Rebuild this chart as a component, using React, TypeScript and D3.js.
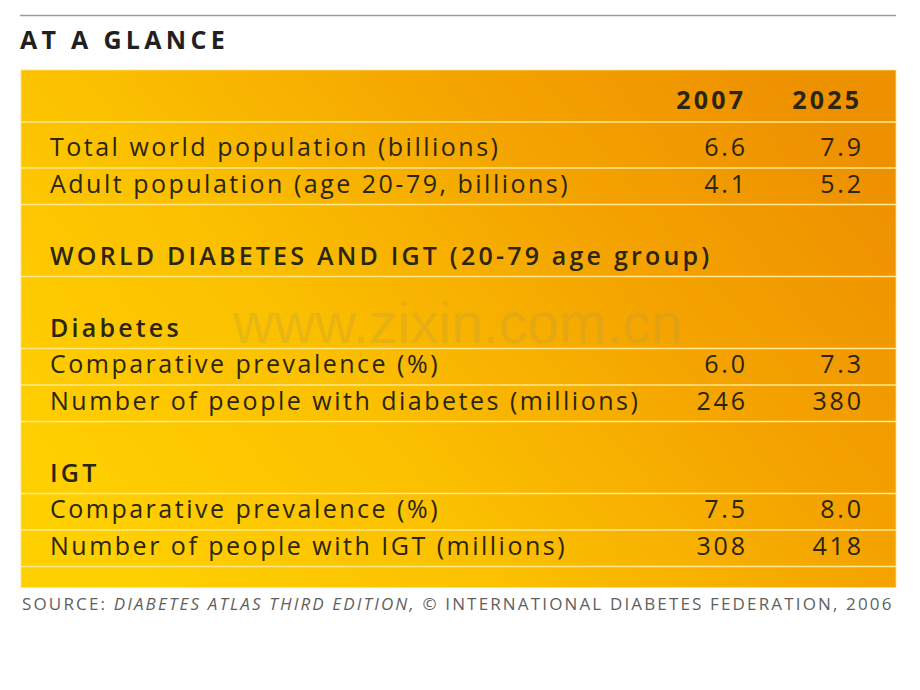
import React from "react";
import * as d3 from "d3";

const title = "AT A GLANCE";
const years = ["2007", "2025"];
const rowKinds = ["header", "data", "data", "section", "sub", "data", "data", "sub", "data", "data", "pad"];
const rowLabels = [
  "",
  "Total world population (billions)",
  "Adult population (age 20-79, billions)",
  "WORLD DIABETES AND IGT (20-79 age group)",
  "Diabetes",
  "Comparative prevalence (%)",
  "Number of people with diabetes (millions)",
  "IGT",
  "Comparative prevalence (%)",
  "Number of people with IGT (millions)",
  "",
];
const values2007 = ["", "6.6", "4.1", "", "", "6.0", "246", "", "7.5", "308", ""];
const values2025 = ["", "7.9", "5.2", "", "", "7.3", "380", "", "8.0", "418", ""];
const sourceParts = [
  { text: "SOURCE: ", italic: false },
  { text: "DIABETES ATLAS THIRD EDITION,", italic: true },
  { text: " © INTERNATIONAL DIABETES FEDERATION, 2006", italic: false },
];
const watermark = "www.zixin.com.cn";

const W = 920;
const H = 690;
const boxX = 21;
const boxRight = 896;
const boxTop = 70;
const heights: Record<string, number> = { header: 52, data: 36.5, section: 72, sub: 72, pad: 21 };

export default function App() {
  const rowHeights = rowKinds.map((k, i) => (k === "data" && i === 1 ? 46 : heights[k]));
  const tops: number[] = [];
  let acc = boxTop;
  rowHeights.forEach((h) => {
    tops.push(acc);
    acc += h;
  });
  const boxBottom = acc;

  const x = d3.scaleOrdinal<string, number>().domain(years).range([745, 861]);
  const labelX = 50;
  const font = "'Open Sans', 'Noto Sans', sans-serif";
  const textColor = "#2b2514";
  const numLs = 2.8;
  const yearLs = 3.2;

  return (
    <svg width={W} height={H} style={{ display: "block", position: "absolute", left: 0, top: 0 }}>
      <defs>
        <linearGradient id="bg" x1="0" y1="0.75" x2="1" y2="0.25">
          <stop offset="0" stopColor="#FFD000" />
          <stop offset="0.35" stopColor="#FBC000" />
          <stop offset="0.7" stopColor="#F4A300" />
          <stop offset="1" stopColor="#EE9100" />
        </linearGradient>
      </defs>
      <rect width={W} height={H} fill="#fff" />
      <line x1={20} x2={896} y1={15.5} y2={15.5} stroke="#9a9a9a" strokeWidth={1.5} />
      <text x={20} y={49} fontFamily={font} fontWeight={700} fontSize={25} fill="#231f20" style={{ letterSpacing: "4.3px" }}>
        {title}
      </text>
      <rect x={boxX} y={boxTop} width={boxRight - boxX} height={boxBottom - boxTop} fill="url(#bg)" stroke="#ffe27a" strokeWidth={0.8} />
      <text x={233} y={343} fontFamily="'Liberation Sans', Arial, sans-serif" fontSize={57} fill="#b89a40" fillOpacity={0.28}>
        {watermark}
      </text>
      {tops.slice(1).map((t, i) => (
        <line key={"l" + i} x1={boxX} x2={boxRight} y1={t} y2={t} stroke="#FFE98C" strokeWidth={1.5} />
      ))}
      {rowKinds.map((k, i) => {
        const base = tops[i] + rowHeights[i] - 12;
        if (k === "header") {
          return (
            <g key={"r" + i}>
              {years.map((yr) => (
                <text
                  key={yr}
                  x={(x(yr) as number) + yearLs - 2}
                  y={base - 1}
                  textAnchor="end"
                  fontFamily={font}
                  fontWeight={700}
                  fontSize={25}
                  fill={textColor}
                  style={{ letterSpacing: yearLs + "px" }}
                >
                  {yr}
                </text>
              ))}
            </g>
          );
        }
        if (k === "pad") return null;
        const weight = k === "data" ? 400 : 600;
        const ls = k === "data" ? 2.5 : 3.2;
        return (
          <g key={"r" + i}>
            <text x={labelX} y={base} fontFamily={font} fontWeight={weight} fontSize={25} fill={textColor} style={{ letterSpacing: ls + "px" }}>
              {rowLabels[i]}
            </text>
            {k === "data" && (
              <>
                <text x={(x(years[0]) as number) + numLs} y={base} textAnchor="end" fontFamily={font} fontSize={25} fill={textColor} style={{ letterSpacing: numLs + "px" }}>
                  {values2007[i]}
                </text>
                <text x={(x(years[1]) as number) + numLs} y={base} textAnchor="end" fontFamily={font} fontSize={25} fill={textColor} style={{ letterSpacing: numLs + "px" }}>
                  {values2025[i]}
                </text>
              </>
            )}
          </g>
        );
      })}
      <text x={22} y={610} fontFamily={font} fontSize={17} fill="#5f5f5f" fontWeight={500} style={{ letterSpacing: "2.15px" }}>
        {sourceParts.map((p, i) => (
          <tspan key={i} fontStyle={p.italic ? "italic" : "normal"}>
            {p.text}
          </tspan>
        ))}
      </text>
    </svg>
  );
}
